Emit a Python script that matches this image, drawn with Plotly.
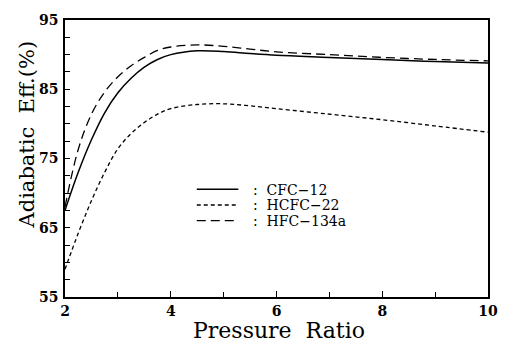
import plotly.graph_objects as go

pressure_ratio = [2, 2.25, 2.5, 2.75, 3, 3.25, 3.5, 3.75, 4, 4.5, 5, 5.5, 6, 7, 8, 9, 10]
cfc12 = [67.5, 73.0, 77.7, 81.6, 84.5, 86.6, 88.2, 89.3, 90.0, 90.55, 90.45, 90.15, 89.9, 89.6, 89.3, 89.0, 88.8]
hcfc22 = [59.0, 64.2, 68.9, 73.0, 76.4, 78.6, 80.2, 81.4, 82.2, 82.8, 82.9, 82.6, 82.2, 81.4, 80.6, 79.7, 78.8]
hfc134a = [68.0, 76.3, 81.4, 84.6, 86.8, 88.4, 89.6, 90.6, 91.1, 91.4, 91.2, 90.8, 90.4, 90.0, 89.6, 89.3, 89.1]

series_names = ["CFC\u221212", "HCFC\u221222", "HFC\u2212134a"]
x_tick_vals = [2, 4, 6, 8, 10]
y_tick_vals = [55, 65, 75, 85, 95]

styles = [dict(dash="solid", width=1.5), dict(dash="4px,3px", width=1.3), dict(dash="9px,5px", width=1.3)]

fig = go.Figure()
for name, vals, st in zip(series_names, [cfc12, hcfc22, hfc134a], styles):
    fig.add_trace(go.Scatter(x=pressure_ratio, y=vals, name=name, mode="lines",
                             line=dict(color="black", width=st["width"], shape="spline", dash=st["dash"])))

tickfont = dict(family="DejaVu Serif", size=14, color="black", weight="bold")

fig.update_layout(
    width=510, height=343,
    margin=dict(l=65, r=18, t=14, b=46),
    paper_bgcolor="white", plot_bgcolor="white",
    showlegend=False,
    xaxis=dict(range=[2, 10], tickvals=x_tick_vals, ticks="inside", ticklen=6,
               tickcolor="black", tickwidth=1, showgrid=False, zeroline=False,
               showline=True, linecolor="black", linewidth=1.5, mirror=True,
               tickfont=tickfont,
               minor=dict(dtick=1, ticks="inside", ticklen=5, tickcolor="black", showgrid=False)),
    yaxis=dict(range=[55, 95], tickvals=y_tick_vals, ticks="inside", ticklen=5,
               tickcolor="black", tickwidth=1, showgrid=False, zeroline=False,
               showline=True, linecolor="black", linewidth=1.5, mirror=True,
               tickfont=tickfont, ticklabelstandoff=2,
               minor=dict(dtick=2.5, ticks="inside", ticklen=5, tickcolor="black", showgrid=False)),
)

# manual legend (sample line, then ": label")
legend_rows_y = [0.3887, 0.3322, 0.2756]
for name, st, ly in zip(series_names, styles, legend_rows_y):
    fig.add_shape(type="line", xref="paper", yref="paper", x0=0.3115, x1=0.4098, y0=ly, y1=ly,
                  line=dict(color="black", width=st["width"], dash=st["dash"]))
    fig.add_annotation(text=":  " + name, xref="paper", yref="paper", x=0.4426, y=ly,
                       xanchor="left", yanchor="middle", showarrow=False, height=15,
                       borderpad=0,
                       font=dict(family="DejaVu Serif", size=14, color="black"))

fig.add_annotation(text="Adiabatic  Eff.(%)", textangle=-90, xref="paper", yref="paper",
                   x=-0.091, y=0.585, xanchor="center", yanchor="middle", showarrow=False,
                   font=dict(family="DejaVu Serif", size=21, color="black"))
fig.add_annotation(text="Pressure  Ratio", xref="paper", yref="paper",
                   x=0.507, y=-0.12, xanchor="center", yanchor="middle", showarrow=False,
                   font=dict(family="DejaVu Serif", size=22, color="black"))

fig.write_html("out.html")
